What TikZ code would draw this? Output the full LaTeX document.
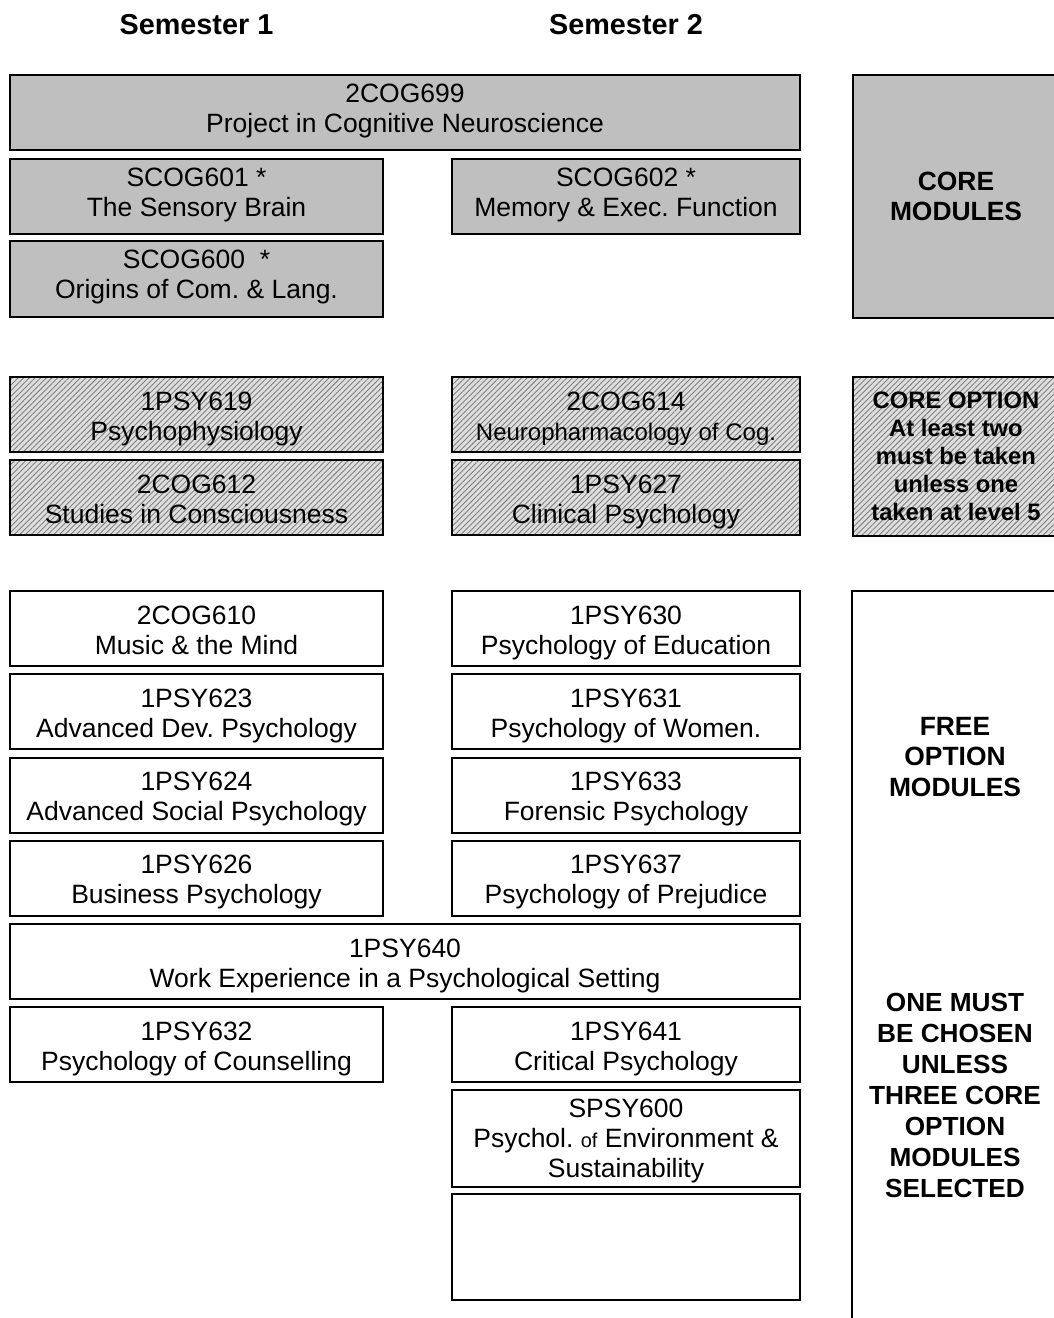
\documentclass[tikz,border=0pt]{standalone}
\usepackage{fontspec}
\setmainfont{Liberation Sans}
\usepackage{tikz}
\usetikzlibrary{positioning, patterns.meta}

\newcommand{\modfont}{\fontsize{13.25}{15}\selectfont}
\newcommand{\headfont}{\fontsize{14.4}{17}\selectfont\bfseries}
\newcommand{\sidefont}{\fontsize{13.2}{15.3}\selectfont\bfseries}
\newcommand{\topstrut}{\rule{0pt}{30pt}}
\frenchspacing

\begin{document}
\begin{tikzpicture}[
    x=0.5pt, y=-0.5pt,
    node distance=4.1pt,
    modbox/.style={rectangle, draw, line width=1pt, align=center, inner sep=0pt, outer sep=0pt, font=\modfont, minimum height=37.5pt, execute at end node=\strut},
    lcol/.style={modbox, minimum width=186.5pt},
    rcol/.style={modbox, minimum width=174pt},
    wide/.style={modbox, minimum width=395pt},
    opt/.style={execute at begin node=\topstrut},
    core/.style={fill=black!25},
    coreopt/.style={opt, preaction={fill=black!13}, pattern={Lines[angle=45, distance=2pt, line width=0.45pt]}, pattern color=black!50},
    sidebox/.style={rectangle, draw, line width=1pt, align=center, inner sep=0pt, outer sep=0pt, minimum width=103pt, font=\sidefont},
    heading/.style={font=\headfont}
]
\useasboundingbox (0,0) rectangle (1054,1318);
\clip (0,0) rectangle (1054,1318);

% Headings
\node[heading] (sem1) at (196.5,25) {Semester 1};
\node[heading] (sem2) at (626,25) {Semester 2};

% Core modules
\node[wide, core] (p699) at (405,112.5) {2COG699\\Project in Cognitive Neuroscience};
\node[lcol, core, below=4.5pt of p699.south west, anchor=north west] (s601) {SCOG601 *\\The Sensory Brain};
\node[rcol, core, below=4.5pt of p699.south east, anchor=north east] (s602) {SCOG602 *\\Memory \& Exec. Function};
\node[lcol, core, below=3.5pt of s601, minimum height=38pt] (s600) {SCOG600\ \ *\\Origins of Com. \& Lang.};
\node[sidebox, core, minimum height=121.5pt, anchor=north west] (corebox) at ([xshift=26.5pt]p699.north east) {CORE\\MODULES};

% Core options
\node[lcol, coreopt, below=30pt of s600] (h619) {1PSY619\\Psychophysiology};
\node[lcol, coreopt, below=of h619] (h612) {2COG612\\Studies in Consciousness};
\node[rcol, coreopt, right=34.5pt of h619] (h614) {2COG614\\{\fontsize{12}{15}\selectfont Neuropharmacology of Cog.}};
\node[rcol, coreopt, right=34.5pt of h612] (h627) {1PSY627\\Clinical Psychology};
\node[sidebox, coreopt, minimum height=79.5pt, anchor=north west, font=\fontsize{11.9}{14}\selectfont\bfseries] (optbox) at ([xshift=26.5pt]h614.north east) {CORE OPTION\\At least two\\must be taken\\unless one\\taken at level 5};

% Free options, semester 1
\node[lcol, opt, below=28pt of h612] (f610) {2COG610\\Music \& the Mind};
\node[lcol, opt, below=of f610] (f623) {1PSY623\\Advanced Dev. Psychology};
\node[lcol, opt, below=of f623] (f624) {1PSY624\\Advanced Social Psychology};
\node[lcol, opt, below=of f624] (f626) {1PSY626\\Business Psychology};
\node[wide, opt, below=of f626.south west, anchor=north west] (f640) {1PSY640\\Work Experience in a Psychological Setting};
\node[lcol, opt, below=of f640.south west, anchor=north west] (f632) {1PSY632\\Psychology of Counselling};

% Free options, semester 2
\node[rcol, opt, right=34.5pt of f610] (f630) {1PSY630\\Psychology of Education};
\node[rcol, opt, right=34.5pt of f623] (f631) {1PSY631\\Psychology of Women.};
\node[rcol, opt, right=34.5pt of f624] (f633) {1PSY633\\Forensic Psychology};
\node[rcol, opt, right=34.5pt of f626] (f637) {1PSY637\\Psychology of Prejudice};
\node[rcol, opt, right=34.5pt of f632] (f641) {1PSY641\\Critical Psychology};
\node[rcol, below=of f641, minimum height=47pt, execute at begin node={\rule{0pt}{43.6pt}}] (spsy600) {SPSY600\\Psychol. {\fontsize{10}{15}\selectfont of} Environment \&\\Sustainability};
\node[rcol, below=3.5pt of spsy600, minimum height=53pt] (blank) {};

\node[sidebox, minimum height=380pt, anchor=north west] (freebox) at ([xshift=26pt]f630.north east) {};
\node[font=\sidefont, align=center] (freetxt) at (955,757) {FREE\\OPTION\\MODULES};
\node[font=\fontsize{13.1}{15.5}\selectfont\bfseries, align=center] (musttxt) at (955,1095) {ONE MUST\\BE CHOSEN\\UNLESS\\THREE CORE\\OPTION\\MODULES\\SELECTED};

\end{tikzpicture}
\end{document}
